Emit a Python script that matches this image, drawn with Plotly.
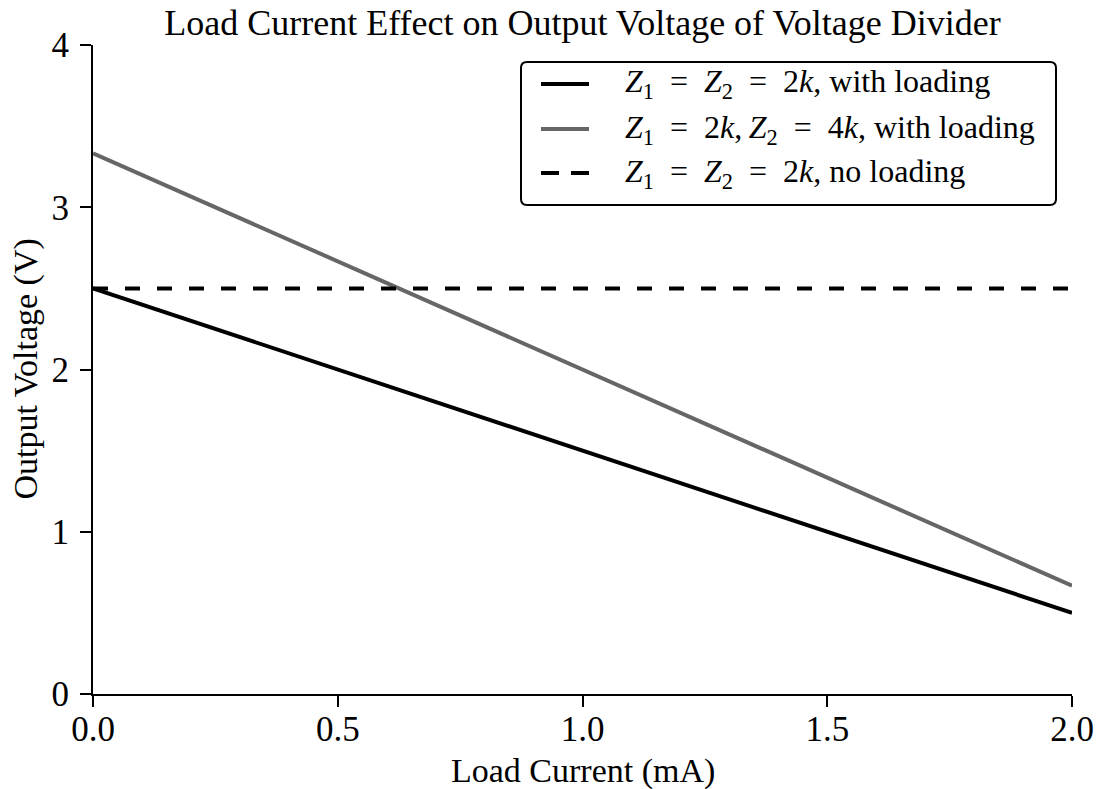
import plotly.graph_objects as go

# ---- data ----
load_current_mA = [0.0, 0.5, 1.0, 1.5, 2.0]
v_equal_loaded = [2.5, 2.0, 1.5, 1.0, 0.5]
v_unequal_loaded = [3.333, 2.667, 2.0, 1.333, 0.667]
v_equal_unloaded = [2.5, 2.5, 2.5, 2.5, 2.5]

x_ticks = [0.0, 0.5, 1.0, 1.5, 2.0]
y_ticks = [0, 1, 2, 3, 4]

SP = "\u2002"  # wider spacing around relations, like TeX math
series_names = [
    f"<i>Z</i><sub>1</sub>{SP}={SP}<i>Z</i><sub>2</sub>{SP}={SP}2<i>k</i>, with loading",
    f"<i>Z</i><sub>1</sub>{SP}={SP}2<i>k</i>,\u2009<i>Z</i><sub>2</sub>{SP}={SP}4<i>k</i>, with loading",
    f"<i>Z</i><sub>1</sub>{SP}={SP}<i>Z</i><sub>2</sub>{SP}={SP}2<i>k</i>, no loading",
]

title_text = "Load Current Effect on Output Voltage of Voltage Divider"
x_title = "Load Current (mA)"
y_title = "Output Voltage (V)"

# ---- layout geometry ----
W, H = 1096, 789
ML, MR, MT, MB = 93, 24, 45, 95
PW, PH = W - ML - MR, H - MT - MB
FONT = "Liberation Serif"
GRAY = "#666666"


def px(xp):
    return (xp - ML) / PW


def py(yp):
    return (H - MB - yp) / PH


fig = go.Figure()
styles = [
    dict(color="black", width=4),
    dict(color=GRAY, width=4),
    dict(color="black", width=4, dash="15px,17px"),
]
for name, ys, st in zip(series_names, [v_equal_loaded, v_unequal_loaded, v_equal_unloaded], styles):
    fig.add_trace(go.Scatter(x=load_current_mA, y=ys, mode="lines", name=name,
                             line=st, showlegend=False, hoverinfo="skip"))

# ---- custom legend (rounded box) ----
bx0, bx1, by0, by1, r = 521, 1056, 62, 205, 6
X0, X1 = px(bx0), px(bx1)
Y0, Y1 = py(by0), py(by1)
rx, ry = r / PW, r / PH
path = (f"M {X0+rx},{Y0} L {X1-rx},{Y0} Q {X1},{Y0} {X1},{Y0-ry} "
        f"L {X1},{Y1+ry} Q {X1},{Y1} {X1-rx},{Y1} "
        f"L {X0+rx},{Y1} Q {X0},{Y1} {X0},{Y1+ry} "
        f"L {X0},{Y0-ry} Q {X0},{Y0} {X0+rx},{Y0} Z")
shapes = [dict(type="path", xref="paper", yref="paper", path=path,
               line=dict(color="black", width=2), fillcolor="white", layer="above")]
annotations = []
row_y = [84, 129, 173]
leg_styles = [
    dict(color="black", width=4),
    dict(color=GRAY, width=4),
    dict(color="black", width=4, dash="18px,12px"),
]
for name, yy, st in zip(series_names, row_y, leg_styles):
    shapes.append(dict(type="line", xref="paper", yref="paper",
                       x0=px(541), x1=px(589), y0=py(yy), y1=py(yy),
                       line=st, layer="above"))
    annotations.append(dict(xref="paper", yref="paper", x=px(623), y=py(yy),
                            xanchor="left", yanchor="middle", showarrow=False,
                            text=name, font=dict(family=FONT, size=32, color="black")))

# axis titles
annotations.append(dict(xref="paper", yref="paper", x=0.5, y=py(771),
                        xanchor="center", yanchor="middle", showarrow=False,
                        text=x_title, font=dict(family=FONT, size=34, color="black")))
annotations.append(dict(xref="paper", yref="paper", x=px(25), y=0.5, textangle=-90,
                        xanchor="center", yanchor="middle", showarrow=False,
                        text=y_title, font=dict(family=FONT, size=34, color="black")))

tickfont = dict(family=FONT, size=35, color="black")

fig.update_layout(
    width=W, height=H,
    margin=dict(l=ML, r=MR, t=MT, b=MB, pad=0),
    paper_bgcolor="white", plot_bgcolor="white",
    font=dict(family=FONT, size=30, color="black"),
    title=dict(text=title_text, x=(ML + PW / 2) / W, xanchor="center",
               y=1 - 22 / H, yanchor="middle",
               font=dict(family=FONT, size=36, color="black")),
    shapes=shapes,
    annotations=annotations,
    xaxis=dict(range=[0, 2], tickvals=x_ticks, ticktext=[f"{v:.1f}" for v in x_ticks],
               showgrid=False, zeroline=False, showline=True, linecolor="black", linewidth=2,
               ticks="outside", ticklen=11, tickwidth=1.5, tickcolor="black",
               tickfont=tickfont, automargin=False, ticklabelstandoff=-8,
               fixedrange=True),
    yaxis=dict(range=[0, 4], tickvals=y_ticks, ticktext=[str(v) for v in y_ticks],
               showgrid=False, zeroline=False, showline=True, linecolor="black", linewidth=2,
               ticks="outside", ticklen=11, tickwidth=1.5, tickcolor="black",
               tickfont=tickfont, automargin=False, ticklabelstandoff=4,
               fixedrange=True),
)

fig.write_html("out.html")
